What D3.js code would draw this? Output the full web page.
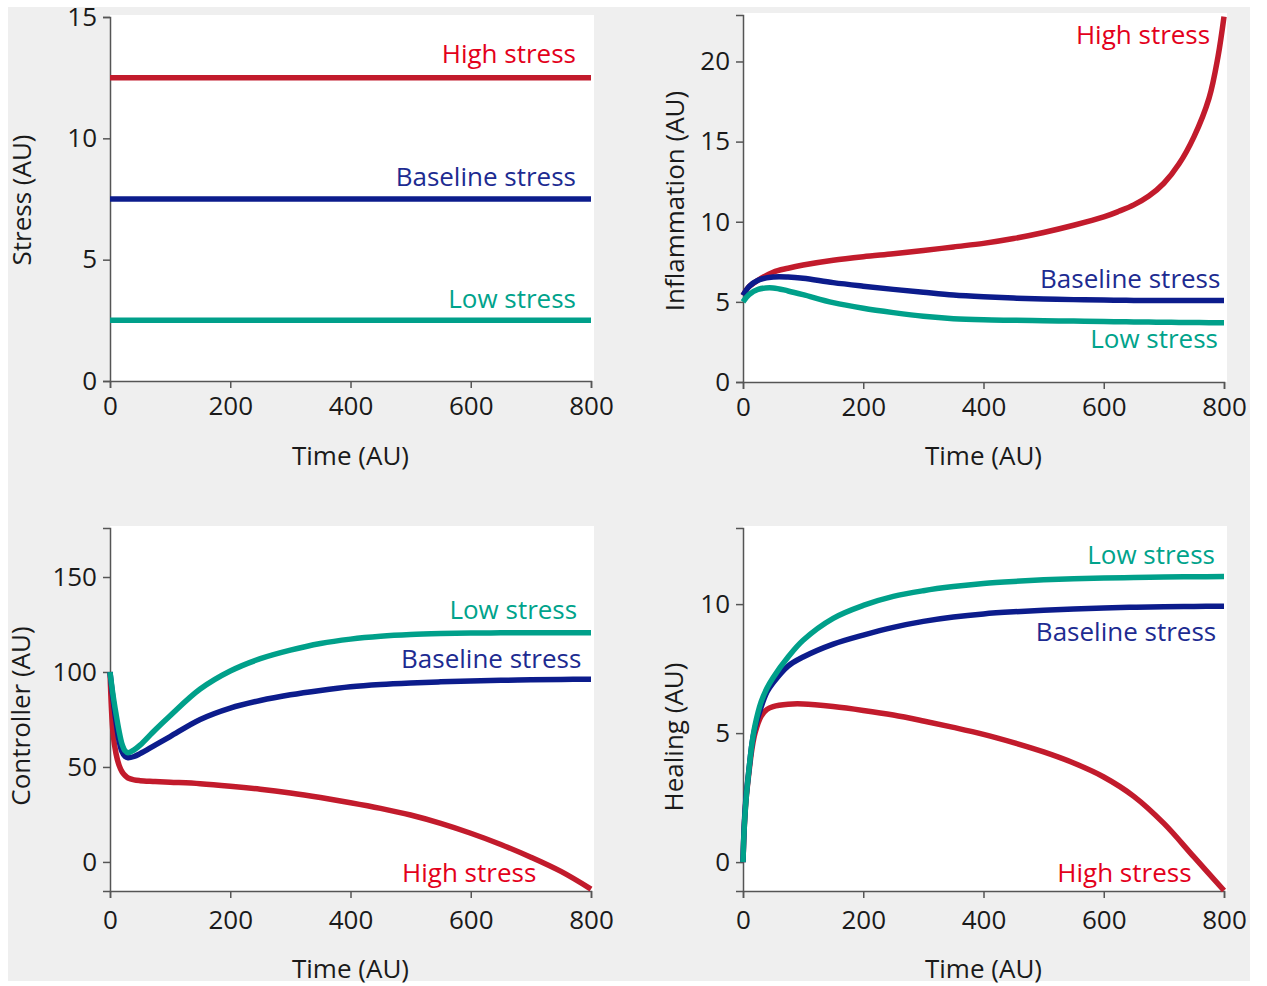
<!DOCTYPE html>
<html>
<head>
<meta charset="utf-8">
<script src="https://cdn.jsdelivr.net/npm/d3@7"></script>
<style>
  body { margin: 0; background: #fff; }
  text { font-family: "Open Sans", sans-serif; }
</style>
</head>
<body>
<div id="chart"></div>
<script>
// ---- data ----
var timeTicks = [0, 200, 400, 600, 800];
var seriesNames = ["High stress", "Baseline stress", "Low stress"];

// stress: constant inputs
var stressTime = [0, 800];
var stressHigh = [12.5, 12.5];
var stressBase = [7.5, 7.5];
var stressLow = [2.5, 2.5];
var stressTicks = [0, 5, 10, 15];

// inflammation
var inflTime = [0, 10, 25, 50, 75, 100, 150, 200, 250, 300, 350, 400, 450, 500, 550, 600, 625, 650, 675, 700, 725, 750, 775, 790, 800];
var inflHigh = [5.4, 5.95, 6.35, 6.85, 7.1, 7.3, 7.6, 7.82, 8.0, 8.2, 8.43, 8.65, 8.95, 9.33, 9.78, 10.3, 10.65, 11.05, 11.6, 12.4, 13.6, 15.3, 17.7, 20.3, 22.8];
var inflBase = [5.4, 5.95, 6.35, 6.55, 6.55, 6.47, 6.2, 5.98, 5.78, 5.6, 5.43, 5.32, 5.24, 5.18, 5.14, 5.11, 5.1, 5.09, 5.08, 5.08, 5.08, 5.08, 5.08, 5.08, 5.08];
var inflLow = [5.0, 5.45, 5.78, 5.87, 5.68, 5.45, 4.95, 4.6, 4.33, 4.1, 3.95, 3.88, 3.85, 3.82, 3.8, 3.77, 3.76, 3.75, 3.74, 3.73, 3.72, 3.71, 3.7, 3.7, 3.7];
var inflTicks = [0, 5, 10, 15, 20];

// controller
var ctrlTime = [0, 5, 10, 15, 20, 25, 30, 40, 50, 75, 100, 150, 200, 250, 300, 350, 400, 450, 500, 550, 600, 650, 700, 750, 800];
var ctrlHigh = [100, 68, 57, 51, 47.5, 45.5, 44.2, 43.2, 42.8, 42.4, 42, 41.2, 39.9, 38.3, 36.3, 33.9, 31.2, 28.2, 24.7, 20.3, 15.1, 9.2, 2.5, -5.0, -14.3];
var ctrlBase = [100, 86, 74, 64, 58, 55.5, 54.8, 55.5, 57, 61.5, 66, 75, 81, 85, 88, 90.3, 92.2, 93.4, 94.2, 94.8, 95.3, 95.6, 95.9, 96.1, 96.2];
var ctrlLow = [100, 88, 78, 69, 62, 58.5, 57.5, 59, 61.5, 69.5, 77, 91, 100.5, 107, 111.5, 115, 117.3, 118.8, 119.7, 120.2, 120.5, 120.6, 120.7, 120.7, 120.7];
var ctrlTicks = [0, 50, 100, 150];

// healing
var healTime = [0, 2, 5, 10, 15, 20, 30, 40, 50, 75, 100, 150, 200, 250, 300, 350, 400, 450, 500, 550, 600, 650, 700, 750, 800];
var healHigh = [0, 1.3, 2.4, 3.5, 4.4, 5.0, 5.65, 5.92, 6.03, 6.12, 6.13, 6.03, 5.88, 5.7, 5.47, 5.22, 4.95, 4.63, 4.27, 3.84, 3.3, 2.55, 1.5, 0.2, -1.1];
var healBase = [0, 1.4, 2.5, 3.6, 4.6, 5.2, 6.0, 6.6, 6.95, 7.6, 7.95, 8.45, 8.8, 9.1, 9.33, 9.5, 9.62, 9.7, 9.76, 9.81, 9.85, 9.88, 9.9, 9.91, 9.92];
var healLow = [0, 1.3, 2.4, 3.6, 4.6, 5.3, 6.2, 6.75, 7.15, 7.95, 8.6, 9.45, 9.95, 10.3, 10.52, 10.68, 10.8, 10.88, 10.94, 10.98, 11.01, 11.03, 11.05, 11.06, 11.07];
var healTicks = [0, 5, 10];

// ---- styling ----
var lineColors = ["#c21b2c", "#0c1c8c", "#00a08a"];
var textColors = ["#e3001b", "#1d2b91", "#00a38b"];

var panels = [
  { time: stressTime, values: [stressHigh, stressBase, stressLow], ticks: stressTicks,
    label: "Stress (AU)", xRange: [110, 591], yDomain: [0, 15], yRange: [381, 17],
    labelX: 31, labelY: 200, xLabelY: 465, pad: 9,
    notes: [[775, 13.1], [775, 8.03], [775, 3.0]] },
  { time: inflTime, values: [inflHigh, inflBase, inflLow], ticks: inflTicks,
    label: "Inflammation (AU)", xRange: [743, 1224], yDomain: [0, 22.9], yRange: [382, 15],
    labelX: 684, labelY: 201, xLabelY: 465, pad: 9,
    notes: [[777, 21.06], [794, 5.87], [790, 2.12]] },
  { time: ctrlTime, values: [ctrlHigh, ctrlBase, ctrlLow], ticks: ctrlTicks,
    label: "Controller (AU)", xRange: [110, 591], yDomain: [-15.3, 175.8], yRange: [891, 528],
    labelX: 30, labelY: 716, xLabelY: 978, pad: 13,
    notes: [[709, -10.5], [784, 102.1], [777, 127.9]] },
  { time: healTime, values: [healHigh, healBase, healLow], ticks: healTicks,
    label: "Healing (AU)", xRange: [743, 1224], yDomain: [-1.12, 12.95], yRange: [891, 528],
    labelX: 683, labelY: 737, xLabelY: 978, pad: 13,
    notes: [[746, -0.78], [787, 8.57], [785, 11.55]] }
];

var svg = d3.select("#chart").append("svg")
  .attr("width", 1267)
  .attr("height", 986);

// gray backdrop
svg.append("rect")
  .attr("x", 8).attr("y", 7)
  .attr("width", 1242).attr("height", 974)
  .attr("fill", "#efefef");

function drawPanel(p) {
  var x = d3.scaleLinear().domain([0, 800]).range(p.xRange);
  var y = d3.scaleLinear().domain(p.yDomain).range(p.yRange);
  var g = svg.append("g");

  // white plot area
  g.append("rect")
    .attr("x", p.xRange[0])
    .attr("y", p.yRange[1] - 2)
    .attr("width", p.xRange[1] - p.xRange[0] + 3)
    .attr("height", p.yRange[0] - p.yRange[1] + 2)
    .attr("fill", "#fff");

  var xAxis = d3.axisBottom(x).tickValues(timeTicks).tickSizeOuter(0).tickSize(7).tickPadding(p.pad);
  var yAxis = d3.axisLeft(y).tickValues(p.ticks).tickSizeOuter(0).tickSize(7).tickPadding(6);

  var gx = g.append("g")
    .attr("transform", "translate(0," + p.yRange[0] + ")")
    .call(xAxis);
  var gy = g.append("g")
    .attr("transform", "translate(" + p.xRange[0] + ",0)")
    .call(yAxis);

  [gx, gy].forEach(function(a) {
    a.selectAll("path, line").attr("stroke", "#555").attr("stroke-width", 1.5);
    a.selectAll("text")
      .attr("fill", "#1a1a1a")
      .attr("font-size", 26)
      .attr("font-family", "'Open Sans', sans-serif");
  });

  // lines
  var line = d3.line()
    .x(function(d) { return x(d[0]); })
    .y(function(d) { return y(d[1]); })
    .curve(d3.curveCatmullRom.alpha(0.5));

  p.values.forEach(function(vals, i) {
    var pts = p.time.map(function(t, k) { return [t, vals[k]]; });
    g.append("path")
      .datum(pts)
      .attr("d", line)
      .attr("fill", "none")
      .attr("stroke", lineColors[i])
      .attr("stroke-width", 5.5)
      .attr("stroke-linejoin", "round");
  });

  // series labels
  p.notes.forEach(function(n, i) {
    g.append("text")
      .attr("x", x(n[0]))
      .attr("y", y(n[1]))
      .attr("text-anchor", "end")
      .attr("font-size", 26)
      .attr("fill", textColors[i])
      .text(seriesNames[i]);
  });

  // axis titles
  g.append("text")
    .attr("x", (p.xRange[0] + p.xRange[1]) / 2)
    .attr("y", p.xLabelY)
    .attr("text-anchor", "middle")
    .attr("font-size", 26)
    .attr("fill", "#1a1a1a")
    .text("Time (AU)");

  g.append("text")
    .attr("transform", "translate(" + p.labelX + "," + p.labelY + ") rotate(-90)")
    .attr("text-anchor", "middle")
    .attr("font-size", 26)
    .attr("fill", "#1a1a1a")
    .text(p.label);
}

panels.forEach(drawPanel);
</script>
</body>
</html>
